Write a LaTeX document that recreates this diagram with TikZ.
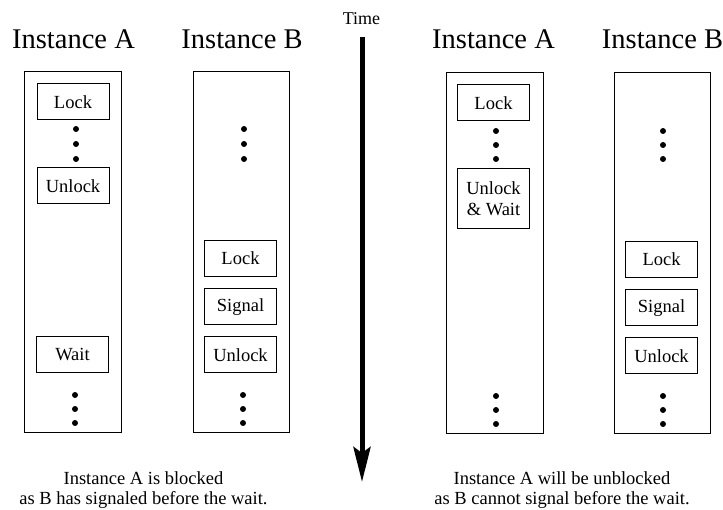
\documentclass[tikz,border=0pt]{standalone}
\usepackage{fontspec}
\setmainfont{Liberation Serif}
\usetikzlibrary{arrows.meta}

\begin{document}
\begin{tikzpicture}[%
		  x=1pt,y=-1pt,
		  heading/.style={anchor=base,inner sep=0pt,font=\fontsize{28.5}{34}\selectfont},
		  lane/.style={draw,line width=1pt,minimum width=97pt,minimum height=361pt,inner sep=0pt},
		  op/.style={draw,line width=1pt,minimum width=72pt,minimum height=36pt,inner sep=0pt,
		    align=center,font=\fontsize{18.5}{21}\selectfont},
		  caption/.style={align=center,inner sep=0pt,font=\fontsize{18.5}{20}\selectfont},
		  timeline/.style={line width=5pt,-{Stealth[length=35pt,width=17pt,inset=6pt]}}]
		  \useasboundingbox (0,0) rectangle (723,510);
		  % left: blocked case
		  \node[heading] (headA) at (73.5,49) {Instance A};
		  \node[heading] (headB) at (242,49) {Instance B};
		  \node[lane] (laneA) at (72.5,252.5) {};
		  \node[lane,minimum width=96pt] (laneB) at (241,252.5) {};
		  \node[op] (lockA) at (73,102) {Lock};
		  \node[op] (unlockA) at (73,186) {Unlock};
		  \node[op] (waitA) at (72.5,355) {Wait};
		  \node[op] (lockB) at (240.5,258.5) {Lock};
		  \node[op] (signalB) at (240.5,307) {Signal};
		  \node[op] (unlockB) at (240.5,355) {Unlock};
		  \foreach \x/\y in {76/129, 76/144, 76/159, 75/395, 75/409, 75/423,
		                     244/129, 244/144, 244/159, 243/395, 243/409, 243/423}
		    \fill (\x,\y) circle (3pt);
		  \node[caption] (capL) at (143.5,490) {Instance A is blocked\\as B has signaled before the wait.};
		  % time axis
		  \node[inner sep=0pt,anchor=base,font=\fontsize{18}{20}\selectfont] (time) at (361.5,25) {Time};
		  \coordinate (tstart) at (362,37);
		  \coordinate (tend) at (362,482);
		  \draw[timeline] (tstart) -- (tend);
		  % right: unblocked case
		  \node[heading] (headA2) at (493.5,49) {Instance A};
		  \node[heading] (headB2) at (662.5,49) {Instance B};
		  \node[lane] (laneA2) at (494.5,253.5) {};
		  \node[lane,minimum width=96pt] (laneB2) at (662,253.5) {};
		  \node[op] (lockA2) at (493.5,103) {Lock};
		  \node[op,minimum height=60pt] (unlockA2) at (493.5,199) {Unlock\\\& Wait};
		  \node[op] (lockB2) at (661.5,259.5) {Lock};
		  \node[op] (signalB2) at (661.5,308) {Signal};
		  \node[op] (unlockB2) at (661.5,356) {Unlock};
		  \foreach \x/\y in {496/131, 496/145, 496/159, 496/396, 496/410, 496/424,
		                     663/131, 663/145, 663/159, 663/396, 663/410, 663/424}
		    \fill (\x,\y) circle (3pt);
		  \node[caption] (capR) at (562,490) {Instance A will be unblocked\\as B cannot signal before the wait.};
\end{tikzpicture}
\end{document}
